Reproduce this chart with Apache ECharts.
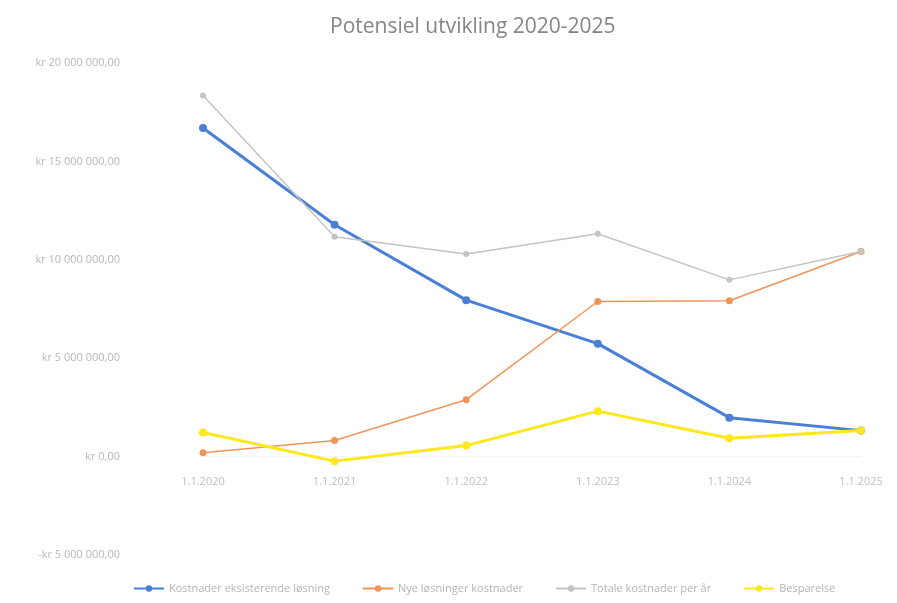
<!DOCTYPE html>
<html>
<head>
<meta charset="utf-8">
<script src="https://cdn.jsdelivr.net/npm/echarts@6/dist/echarts.min.js"></script>
<style>html,body{margin:0;padding:0;background:#fff}#c{width:897px;height:603px}</style>
</head>
<body>
<div id="c"></div>
<script>
const categories = ['1.1.2020', '1.1.2021', '1.1.2022', '1.1.2023', '1.1.2024', '1.1.2025'];
const seriesNames = ['Kostnader eksisterende løsning', 'Nye løsninger kostnader', 'Totale kostnader per år', 'Besparelse'];
const blueValues = [16700000, 11780000, 7950000, 5740000, 1980000, 1320000];
const orangeValues = [200000, 820000, 2890000, 7880000, 7920000, 10420000];
const grayValues = [18350000, 11170000, 10300000, 11320000, 8980000, 10420000];
const yellowValues = [1220000, -230000, 560000, 2310000, 930000, 1320000];
const yTicks = [-5000000, 0, 5000000, 10000000, 15000000, 20000000];

function fmtKr(v) {
  const neg = v < 0;
  const a = Math.abs(v);
  let s = String(Math.round(a)).replace(/\B(?=(\d{3})+(?!\d))/g, ' ');
  return (neg ? '-' : '') + 'kr ' + s + ',00';
}

const chart = echarts.init(document.getElementById('c'));
const font = 'Open Sans, Liberation Sans, sans-serif';
const gridTop = 63, gridBottom = 48, H = 603;
const gridH = H - gridTop - gridBottom;
const zeroOffset = -gridH * (0 - yTicks[0]) / (yTicks[yTicks.length - 1] - yTicks[0]);
function mk(name, data, color, width, size) {
  return {
    name: name, type: 'line', data: data,
    symbol: 'circle', symbolSize: size,
    lineStyle: { color: color, width: width },
    itemStyle: { color: color },
    emphasis: { disabled: true }
  };
}
chart.setOption({
  animation: false,
  title: {
    text: 'Potensiel utvikling 2020-2025',
    left: 325, top: 12,
    textStyle: { fontSize: 21, fontWeight: 'normal', color: '#858585', fontFamily: font }
  },
  legend: {
    bottom: 4, left: 128,
    itemWidth: 30, itemHeight: 8, itemGap: 32,
    textStyle: { fontSize: 11, color: '#b5b5b5', fontFamily: font },
    data: seriesNames
  },
  grid: { left: 203, right: 36, top: gridTop, bottom: gridBottom },
  xAxis: {
    type: 'category', data: categories, boundaryGap: false,
    position: 'bottom', offset: zeroOffset,
    axisLine: { show: true, onZero: false, lineStyle: { color: '#f3f3f3' } },
    axisTick: { show: false },
    axisLabel: { margin: 20, fontSize: 11, color: '#c0c0c0', fontFamily: font },
    splitLine: { show: false }
  },
  yAxis: {
    type: 'value', min: yTicks[0], max: yTicks[yTicks.length - 1], interval: 5000000,
    axisLine: { show: false }, axisTick: { show: false },
    splitLine: { show: false },
    axisLabel: { margin: 83, fontSize: 11, color: '#b8b8b8', fontFamily: font, formatter: fmtKr }
  },
  series: [
    mk(seriesNames[0], blueValues, '#4a7fd6', 3, 8),
    mk(seriesNames[1], orangeValues, '#f0955a', 1.5, 7),
    mk(seriesNames[2], grayValues, '#c4c4c4', 1.5, 6),
    mk(seriesNames[3], yellowValues, '#ffe81a', 3, 8)
  ]
});
</script>
</body>
</html>
